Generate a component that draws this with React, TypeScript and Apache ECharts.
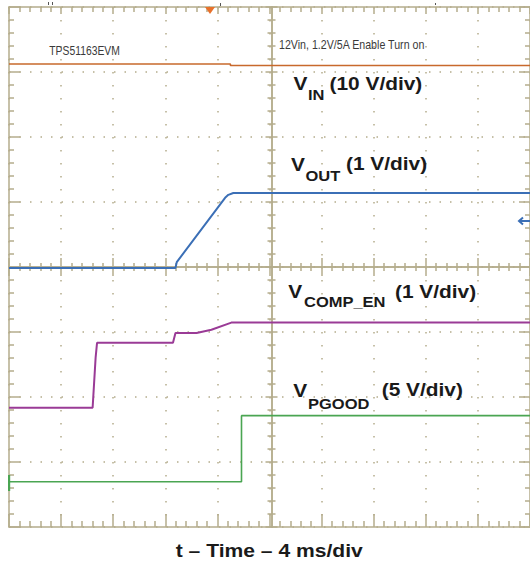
import React, { useEffect, useRef } from 'react';
import * as echarts from 'echarts';

// ---- Data (time in ms, voltage in V) ----
const vinTime = [0, 17.0, 17.0, 40];
const vinVolts = [11.7, 11.7, 11.46, 11.46];

const voutTime = [0, 12.78, 12.88, 16.59, 16.84, 17.22, 40];
const voutVolts = [0, 0, 0.09, 1.08, 1.125, 1.153, 1.153];

const compTime = [0, 6.42, 6.65, 6.76, 12.59, 12.78, 14.4, 15.54, 17.07, 40];
const compVolts = [0, 0, 0.77, 1.0, 1.0, 1.15, 1.15, 1.2, 1.31, 1.31];

const pgoodTime = [0, 17.85, 17.85, 40];
const pgoodVolts = [0, 0, 5.08, 5.08];

// ---- Scope settings ----
const TIME_MIN = 0;
const TIME_MAX = 40;
const TIME_DIV = 4; // ms/div
const DIV_MIN = 0;
const DIV_MAX = 8;

const channels = [
  { name: 'VIN', t: vinTime, v: vinVolts, ground: 5.954, scale: 10, color: '#c8692c', width: 1.6 },
  { name: 'VOUT', t: voutTime, v: voutVolts, ground: 3.985, scale: 1, color: '#3b6fb6', width: 2 },
  { name: 'VCOMP_EN', t: compTime, v: compVolts, ground: 1.835, scale: 1, color: '#9a3b96', width: 2 },
  { name: 'VPGOOD', t: pgoodTime, v: pgoodVolts, ground: 0.697, scale: 5, color: '#4aa552', width: 1.6 },
];

const TAN = '#b4ac8c';
const FONT = '"Liberation Sans", Arial, sans-serif';

function txt(text: string, x: number, baseline: number, size: number, bold: boolean, scaleX: number, color = '#1a1a1a') {
  return {
    type: 'text',
    x,
    y: baseline - 0.3465 * size,
    scaleX,
    z: 100,
    silent: true,
    style: {
      text,
      x: 0,
      y: 0,
      fontSize: size,
      fontWeight: bold ? 'bold' : 'normal',
      fontFamily: FONT,
      fill: color,
      align: 'left',
      verticalAlign: 'middle',
    },
  };
}

function label(x: number, baseline: number, sub: string, subX: number, subBase: number, rest: string, restX: number, restBase: number) {
  return [
    txt('V', x, baseline, 18, true, 1.16),
    txt(sub, subX, subBase, 15, true, 1.1),
    txt(rest, restX, restBase, 18, true, 1.16),
  ];
}

export default function App() {
  const ref = useRef<HTMLDivElement>(null);

  useEffect(() => {
    if (!ref.current) return;
    const chart = echarts.init(ref.current, undefined, { renderer: 'svg' });

    const tickStyle = { color: TAN, width: 1.5 };
    const baseX = {
      type: 'value',
      min: TIME_MIN,
      max: TIME_MAX,
      interval: TIME_DIV,
      axisLabel: { show: false },
      splitLine: { show: false },
      axisLine: { show: true, onZero: false, lineStyle: { color: TAN, width: 1.5 } },
    };
    const baseY = {
      type: 'value',
      min: DIV_MIN,
      max: DIV_MAX,
      interval: 1,
      axisLabel: { show: false },
      splitLine: { show: false },
      axisLine: { show: true, onZero: false, lineStyle: { color: TAN, width: 1.5 } },
    };
    const mk = (inside: boolean, len: number, minorLen: number) => ({
      axisTick: { show: true, inside, length: len, lineStyle: tickStyle },
      minorTick: { show: true, splitNumber: 5, length: minorLen, lineStyle: tickStyle },
    });

    const series = channels.map((c) => ({
      type: 'line',
      name: c.name,
      xAxisIndex: 0,
      yAxisIndex: 0,
      showSymbol: false,
      symbol: 'none',
      z: 10,
      lineStyle: { color: c.color, width: c.width },
      data: c.t.map((t, i) => [t, c.ground + c.v[i] / c.scale]),
    }));

    const graphics: any[] = [
      // trigger position marker
      {
        type: 'polygon',
        z: 100,
        shape: { points: [[205, 7], [215, 7], [210, 14]] },
        style: { fill: '#e8712b' },
      },
      // small marks above the frame
      { type: 'rect', z: 100, shape: { x: 48, y: 2, width: 1, height: 3 }, style: { fill: '#555' } },
      { type: 'rect', z: 100, shape: { x: 52, y: 2, width: 1, height: 3 }, style: { fill: '#555' } },
      { type: 'rect', z: 100, shape: { x: 220, y: 3, width: 1, height: 3 }, style: { fill: '#555' } },
      { type: 'rect', z: 100, shape: { x: 435, y: 3, width: 1, height: 2 }, style: { fill: '#555' } },
      // VOUT channel arrow at right
      {
        type: 'polyline', z: 100,
        shape: { points: [[519, 221], [531, 221]] },
        style: { stroke: '#3b6fb6', lineWidth: 2, fill: null },
      },
      {
        type: 'polyline', z: 100,
        shape: { points: [[523, 217.5], [519, 221], [523, 224.5]] },
        style: { stroke: '#3b6fb6', lineWidth: 2, fill: null },
      },
      // VPGOOD ground marker at left
      { type: 'rect', z: 100, shape: { x: 8, y: 475, width: 2.2, height: 16 }, style: { fill: '#4aa552' } },
      // small texts
      txt('TPS51163EVM', 49.3, 55, 13.5, false, 0.767, '#3a3a3a'),
      txt('12Vin, 1.2V/5A Enable Turn on', 279, 49.3, 13, false, 0.819, '#3a3a3a'),
      // channel labels
      ...label(293.5, 89.7, 'IN', 308, 100.3, '(10 V/div)', 329.5, 89.7),
      ...label(291, 170.7, 'OUT', 305.5, 181, '(1 V/div)', 346, 170),
      ...label(288.3, 297.5, 'COMP_EN', 304, 306.5, '(1 V/div)', 395, 298),
      ...label(293.3, 396.3, 'PGOOD', 308, 408.7, '(5 V/div)', 381.7, 395.3),
      // x axis title
      txt('t \u2013 Time \u2013 4 ms/div', 175.7, 556.7, 19, true, 1.11),
    ];

    const option: any = {
      animation: false,
      backgroundColor: '#ffffff',
      grid: { left: 9, top: 7, width: 525, height: 520, containLabel: false },
      xAxis: [
        {
          ...baseX,
          position: 'bottom',
          ...mk(true, 13, 6),
          splitLine: { show: true, lineStyle: { color: TAN, width: 1.5, type: [1.5, 11.5] } },
        },
        { ...baseX, position: 'top', ...mk(true, 7, 5) },
        { ...baseX, position: 'bottom', offset: -260, ...mk(true, 9, 4) },
        { ...baseX, position: 'bottom', offset: -260, ...mk(false, 9, 4) },
      ],
      yAxis: [
        {
          ...baseY,
          position: 'left',
          ...mk(true, 11, 5),
          splitLine: { show: true, lineStyle: { color: TAN, width: 1.5, type: [1.5, 9] } },
        },
        { ...baseY, position: 'left', offset: -262.5, ...mk(true, 6, 4) },
        { ...baseY, position: 'left', offset: -262.5, ...mk(false, 6, 4) },
        { ...baseY, position: 'right', ...mk(true, 11, 5) },
      ],
      series,
      graphic: graphics,
    };

    chart.setOption(option);
    return () => chart.dispose();
  }, []);

  return (
    <div
      ref={ref}
      style={{ position: 'fixed', left: 0, top: 0, width: 530, height: 565, background: '#fff' }}
    />
  );
}
